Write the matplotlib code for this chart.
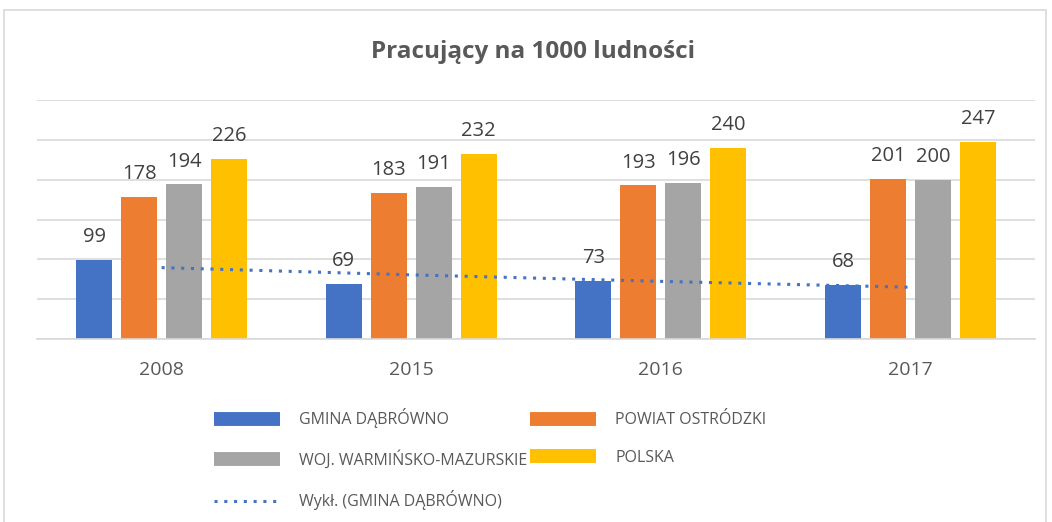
import matplotlib.pyplot as plt
import numpy as np
from matplotlib.lines import Line2D
from matplotlib.patches import Rectangle

plt.rcParams['font.family'] = ['Open Sans', 'DejaVu Sans']

# data
years = ['2008', '2015', '2016', '2017']
series = ['GMINA DĄBRÓWNO', 'POWIAT OSTRÓDZKI', 'WOJ. WARMIŃSKO-MAZURSKIE', 'POLSKA']
gmina = [99, 69, 73, 68]
powiat = [178, 183, 193, 201]
woj = [194, 191, 196, 200]
polska = [226, 232, 240, 247]
colors = ['#4472C4', '#ED7D31', '#A5A5A5', '#FFC000']

fig = plt.figure(figsize=(10.52, 5.22), dpi=100)
ax = fig.add_axes([0.035, 0.3506, 0.949, 0.4578])

x = np.arange(len(years))
width = 0.144
step = 0.18
values = [gmina, powiat, woj, polska]
for i, (vals, col) in enumerate(zip(values, colors)):
    pos = x + (i - 1.5) * step
    bars = ax.bar(pos, vals, width, color=col, zorder=2)
    for b, v in zip(bars, vals):
        ax.text(b.get_x() + b.get_width() / 2, v + 16, str(v), ha='center', va='bottom',
                fontsize=14.5, color='#404040')

# exponential trendline for GMINA
t = np.arange(1, len(years) + 1)
k, c = np.polyfit(t, np.log(gmina), 1)
trend = np.exp(c + k * t)
ax.plot(x, trend, linestyle=(0, (1, 2.2)), color='#4472C4', lw=2.2, zorder=3)

ax.set_ylim(0, 300)
ax.set_xlim(-0.5, len(years) - 0.5)
ax.set_yticks(np.arange(0, 301, 50))
ax.set_yticklabels([])
ax.yaxis.grid(True, color='#D9D9D9', lw=1.2, zorder=0)
ax.tick_params(axis='y', length=0)
ax.tick_params(axis='x', length=0, pad=16, labelsize=14, labelcolor='#595959')
ax.set_xticks(x)
ax.set_xticklabels(years)
for s in ['top', 'right', 'left']:
    ax.spines[s].set_visible(False)
ax.spines['bottom'].set_color('#D9D9D9')
ax.spines['bottom'].set_linewidth(1.2)
ax.set_axisbelow(True)

fig.text(0.507, 0.9, 'Pracujący na 1000 ludności', ha='center', va='center',
         fontsize=17.5, fontweight='bold', color='#595959')

# legend
handles = [Line2D([], [], color=c_, lw=10, solid_capstyle='butt') for c_ in colors]
trend_h = Line2D([], [], color='#4472C4', lw=2.2, linestyle=(0, (1, 2.2)))
order_h = [handles[0], handles[2], trend_h, handles[1], handles[3]]
order_l = [series[0], series[2], 'Wykł. (GMINA DĄBRÓWNO)', series[1], series[3]]
fig.legend(order_h, order_l, ncol=2, loc='upper left', bbox_to_anchor=(0.19, 0.245),
           frameon=False, fontsize=11.5, labelcolor='#595959', handlelength=4.1,
           handletextpad=1.2, columnspacing=0.2, labelspacing=1.35)

# chart border
fig.patches.append(Rectangle((0.004, -0.1), 0.99, 1.08, transform=fig.transFigure,
                             fill=False, edgecolor='#D9D9D9', lw=1.2))

fig.savefig('out.png', dpi=100)
